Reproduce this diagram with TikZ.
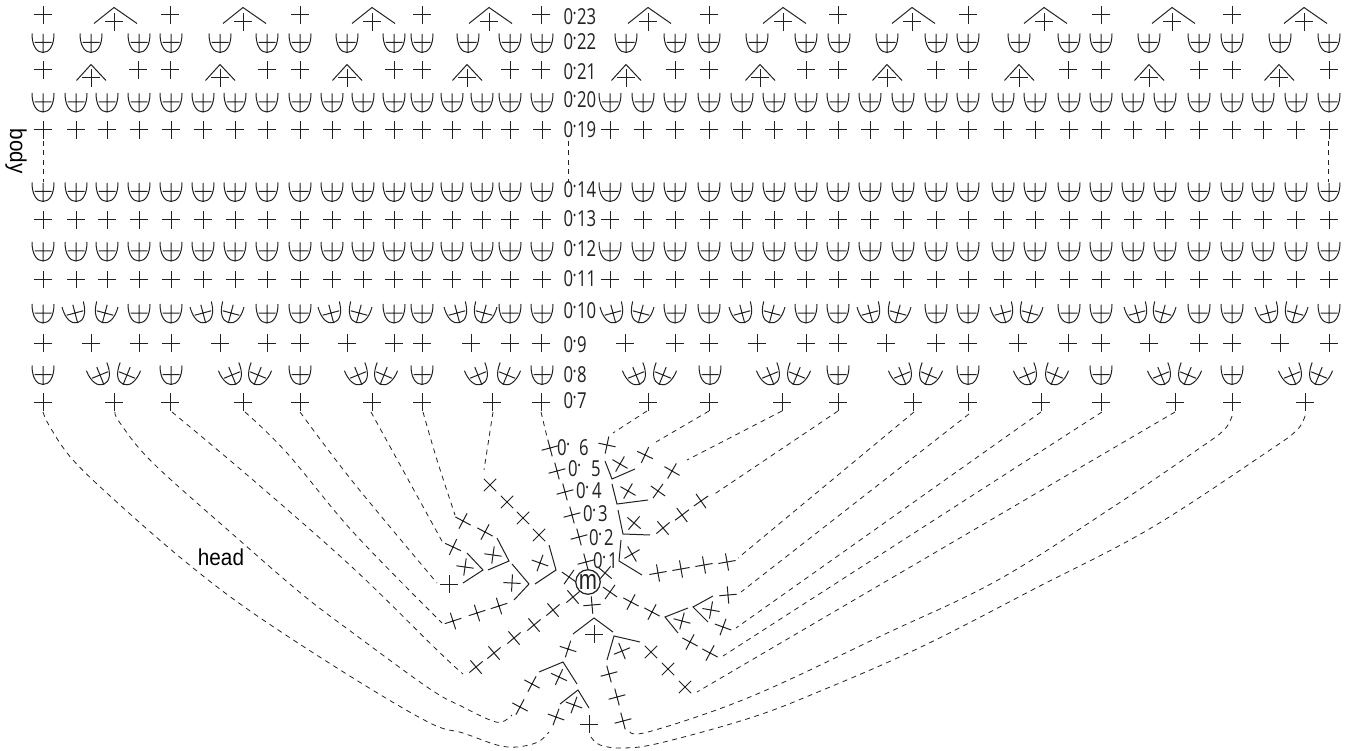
\documentclass[tikz,border=0pt]{standalone}
\usepackage{fontspec}
\newfontfamily\numfont[FakeStretch=0.76]{Open Sans}
\newfontfamily\headfont[FakeStretch=0.9]{Liberation Sans}
\newfontfamily\mfont[FakeStretch=0.78]{Liberation Sans}
\definecolor{ink}{HTML}{222222}
\tikzset{
  sym/.style={draw=ink,line width=1pt,line join=miter},
  dashline/.style={draw=ink,line width=.8pt,dash pattern=on 5pt off 4.5pt},
  lab/.style={inner sep=0pt,outer sep=0pt,anchor=base west,text=ink,font=\numfont\fontsize{22}{22}\selectfont},
  captext/.style={inner sep=0pt,text=black,font=\headfont\fontsize{23}{23}\selectfont},
}
\newcommand{\zdot}{0\raisebox{7pt}{\fontsize{11}{11}\selectfont•}}
\newcommand{\csym}[3]{\draw[sym,shift={(#1,#2)},rotate=#3] (-8.7,0) -- (8.7,0) (0,-8.7) -- (0,8.7);}
\newcommand{\bsym}[3]{\draw[sym,shift={(#1,#2)},rotate=#3] (-8.5,0) -- (8.5,0) (0,-8.5) -- (0,9.5)
   (-11,-9) .. controls (-11,3) and (-6.5,10) .. (0,10) .. controls (6.5,10) and (11,3) .. (11,-9);}
\newcommand{\lblrow}[3]{\node[lab] (#3) at (563.5,#1) {\makebox[13.5pt][l]{\zdot}#2};}
\begin{document}
\begin{tikzpicture}[x=1pt,y=-1pt]
\useasboundingbox (0,0) rectangle (1354,751);
% ---- row 23
\foreach \x in {43,170,300,422,541,709,838,968,1101,1232} {\csym{\x}{15}{0}}
\foreach \x in {114,243,372,489,648,783,912,1044,1172,1304} {
  \draw[sym] (\x-20,23.5) -- (\x,7.5) -- (\x+23,23.5);
  \csym{\x}{22}{0}}
% ---- row 22
\foreach \x in {43,91,139,171,220,267,300,347,394,422,468,510,542,626,675,709,757,806,839,887,936,968,1019,1069,1101,1149,1199,1232,1280,1329} {\bsym{\x}{42.5}{0}}
% ---- row 21
\foreach \x in {43,138,170,267,300,394,422,510,541,675,709,806,838,936,968,1068,1101,1199,1232,1329} {\csym{\x}{70}{0}}
\foreach \x in {91,220,347,467,626,760,887,1019,1149,1279} {
  \draw[sym] (\x-14.5,80.5) -- (\x,64.5) -- (\x+15,80.5);
  \csym{\x}{78}{0}}
% ---- plain rows
\def\fullrow{43,76,107,139,171,203,235,267,300,332,363,394,422,452,482,510,542,610,643,675,709,742,774,806,838,870,903,936,968,1003,1035,1069,1101,1133,1165,1199,1232,1263,1296,1329}
\foreach \x in \fullrow {\bsym{\x}{102}{0}}
\foreach \x in \fullrow {\csym{\x}{130}{0}}
\foreach \x in \fullrow {\bsym{\x}{191.5}{0}}
\foreach \x in \fullrow {\csym{\x}{220}{0}}
\foreach \x in \fullrow {\bsym{\x}{251}{0}}
\foreach \x in \fullrow {\csym{\x}{279.5}{0}}
% ---- row 10
\foreach \x in {43,139,171,267,300,394,422,510,542,675,709,806,838,936,968,1069,1101,1199,1232,1329} {\bsym{\x}{313}{0}}
\foreach \x in {75,203,331,457,613,742,870,1003,1137,1268} {\bsym{\x}{313}{15}}
\foreach \x in {105,231,359,484,641,772,898,1030,1163,1295} {\bsym{\x}{313}{-15}}
% ---- row 9
\foreach \x in {43,91,139,171,220,267,300,347,394,422,471,510,541,625,675,709,757,806,838,886,936,968,1018,1068,1101,1149,1199,1232,1280,1329} {\csym{\x}{343}{0}}
% ---- row 8
\foreach \x in {43,171,300,422,542,710,838,968,1101,1232} {\bsym{\x}{374.5}{0}}
\foreach \x in {100,232,358,478,636,770,902,1027,1161,1292} {\bsym{\x}{375}{22}}
\foreach \x in {127,258,384,507,663,797,929,1055,1188,1319} {\bsym{\x}{375}{-22}}
% ---- row 7
\foreach \x in {43,114,170,243,300,372,422,492,541,648,709,782,838,913,968,1041,1101,1175,1232,1305} {\csym{\x}{402}{0}}
% ---- side labels
\lblrow{25}{23}{r23}
\lblrow{50}{22}{r22}
\lblrow{80}{21}{r21}
\lblrow{108}{20}{r20}
\lblrow{138}{19}{r19}
\lblrow{198}{14}{r14}
\lblrow{227}{13}{r13}
\lblrow{257}{12}{r12}
\lblrow{287}{11}{r11}
\lblrow{318}{10}{r10}
\lblrow{352}{9}{r9}
\lblrow{382}{8}{r8}
\lblrow{408}{7}{r7}
\node[captext,rotate=-90] (body) at (16,151) {body};
\node[captext] (head) at (221,557) {head};
% ---- body dashes
\foreach \x in {43,568,1328} {\draw[dashline] (\x,141) -- (\x,182);}
% ---- head: centre column
\foreach \p/\q in {550/448,557/471,565/492,572/515,579/537,586/562} {\csym{\p}{\q}{15}}
\node[lab] (h6) at (557,455) {\makebox[22pt][l]{\zdot}6};
\node[lab] (h5) at (568,476) {\makebox[23pt][l]{\zdot}5};
\node[lab] (h4) at (576,498) {\makebox[16pt][l]{\zdot}4};
\node[lab] (h3) at (583,521) {\makebox[15pt][l]{\zdot}3};
\node[lab] (h2) at (589,545) {\makebox[15pt][l]{\zdot}2};
\node[lab] (h1) at (593,568) {\makebox[15pt][l]{\zdot}1};
% ---- head: crosses
\foreach \p/\q/\r in {
 607/445/-12, 620/464/-30, 645/455/-25, 628/491/-30, 658/491/-35, 672/471/-30,
 634/523/-40, 663/528/40, 682/515/37, 701/501/35, 632/554/30,
 658/573/10, 681/569/10, 704/565/10, 727/562/10,
 605/573/-40, 610/592/-35, 631/602/-28, 652/612/-28,
 682/621/-15, 711/610/-10, 728/595/5, 723/627/-20, 690/642/-28, 710/653/-28,
 592/605/5, 594/634/0, 622/651/22, 651/652/45, 668/669/45, 685/687/45,
 609/674/15, 617/697/15, 623/721/15, 589/724/0,
 574/705/-20, 559/677/-25, 568/649/-18, 532/684/-28, 520/707/-28, 556/717/-20,
 573/597/40, 553/610/40, 534/625/40, 514/638/40, 494/653/40, 476/667/40,
 453/621/18, 477/613/18, 499/606/18,
 465/567/-8, 453/547/-25, 463/521/-28, 485/532/-28, 493/555/-8, 540/563/-20,
 490/485/45, 507/502/45, 523/518/45, 539/535/45, 512/583/-3, 569/577/-35, 449/584/0
} {\csym{\p}{\q}{\r}}
% ---- head: chevrons
\draw[sym] (605,461) -- (612,479) -- (635,469);
\draw[sym] (612,484) -- (617,504) -- (648,500);
\draw[sym] (618,510) -- (623,534) -- (650,535);
\draw[sym] (621,540) -- (619,561) -- (642,575);
\draw[sym] (688,608) -- (665,617) -- (678,633);
\draw[sym] (713,596) -- (693,607) -- (708,622);
\draw[sym] (573,634) -- (594,618) -- (613,632);
\draw[sym] (607,660) -- (614,636) -- (640,642);
\draw[sym] (539,672) -- (563,662) -- (577,684);
\draw[sym] (560,704) -- (578,690) -- (589,708);
\draw[sym] (467,553) -- (483,570) -- (463,583);
\draw[sym] (497,538) -- (509,561) -- (488,570);
\draw[sym] (549,545) -- (556,570) -- (535,584);
\draw[sym] (512,564) -- (529,584) -- (514,600);
% ---- magic ring
\node[circle,draw=ink,line width=1.2pt,fill=white,minimum size=24.5pt,inner sep=0pt,font=\mfont\fontsize{28}{28}\selectfont,text=ink] (ring) at (588,582) {\raisebox{1pt}{m}};
% ---- left dashes
\draw[dashline] plot[smooth,tension=.6] coordinates {(43,412) (50,427) (73,460) (120,505) (187,563) (253,613) (353,678) (430,723) (463,733) (497,745) (517,747) (538,742) (549,732)};
\draw[dashline] plot[smooth,tension=.6] coordinates {(115,412) (120,423) (153,463) (237,538) (303,595) (353,633) (430,689) (463,707) (490,720) (502,722) (512,715)};
\draw[dashline] plot[smooth,tension=.6] coordinates {(172,412) (253,480) (353,568) (437,650) (463,674)};
\draw[dashline] plot[smooth,tension=.6] coordinates {(245,412) (287,453) (353,532) (442,623)};
\draw[dashline] plot[smooth,tension=.6] coordinates {(300,412) (353,482) (437,583)};
\draw[dashline] (371,412) -- (443,543);
\draw[dashline] plot[smooth,tension=.6] coordinates {(423,412) (437,460) (455,515)};
\draw[dashline] (493,412) -- (484,470);
\draw[dashline] (541,412) -- (547,437);
% ---- right dashes
\draw[dashline] (647,411) -- (613,433);
\draw[dashline] (709,411) -- (656,442);
\draw[dashline] (782,411) -- (687,460);
\draw[dashline] (838,411) -- (713,495);
\draw[dashline] (914,412) -- (738,558);
\draw[dashline] (969,414) -- (741,592);
\draw[dashline] (1041,412) -- (736,628);
\draw[dashline] (1102,412) -- (723,656);
\draw[dashline] (1175,412) -- (697,692);
\draw[dashline] plot[smooth,tension=.6] coordinates {(1232,416) (1224,430) (1197,450) (1113,507) (998,580) (883,635) (750,697) (648,732) (629,730)};
\draw[dashline] plot[smooth,tension=.6] coordinates {(1305,416) (1297,430) (1270,450) (1151,528) (1036,588) (921,647) (818,692) (750,718) (660,743) (623,748) (600,745) (591,737)};
\end{tikzpicture}
\end{document}
